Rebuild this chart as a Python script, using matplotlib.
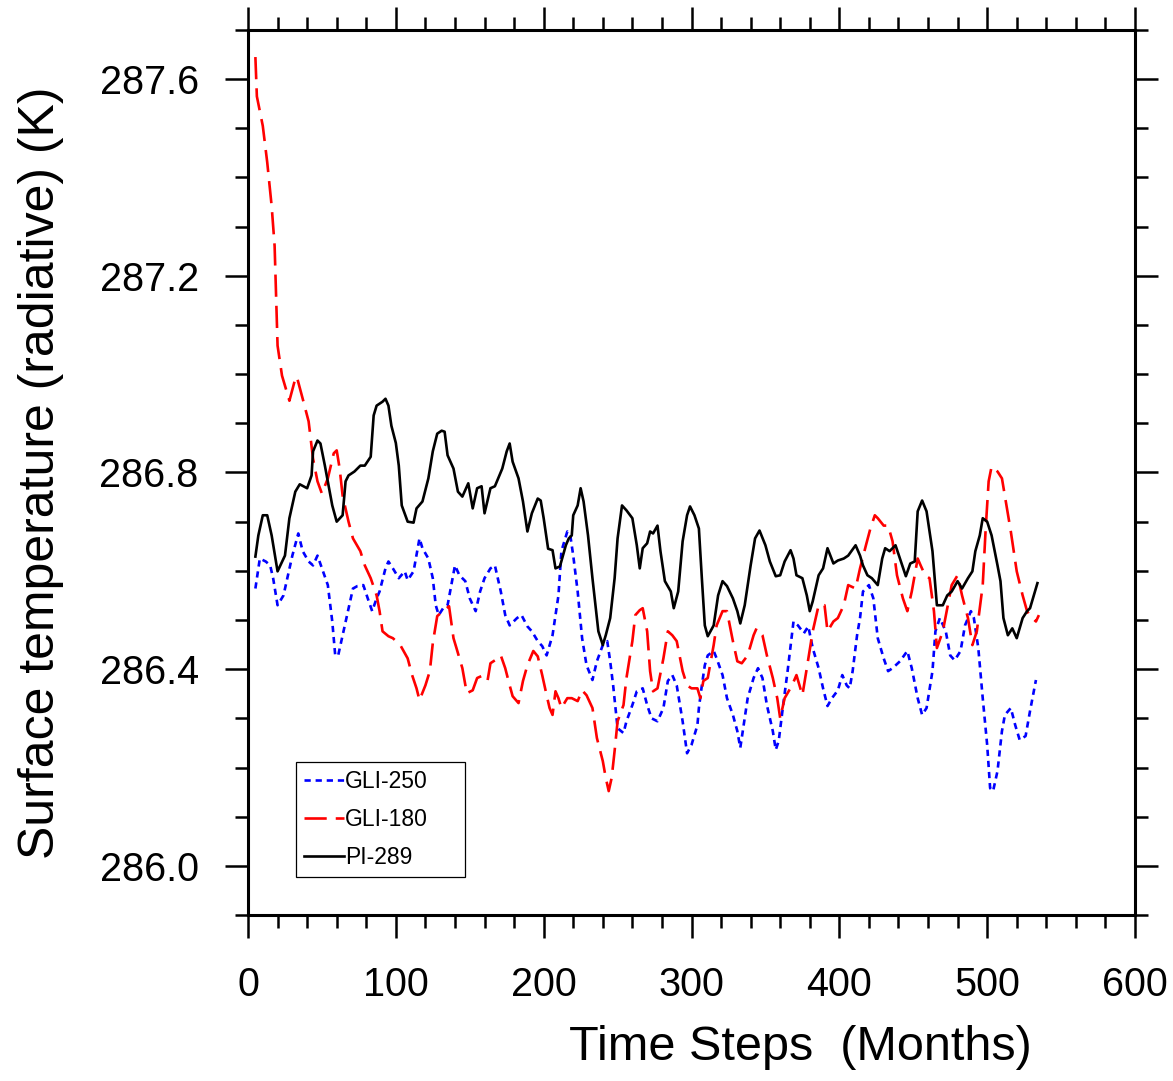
import matplotlib
matplotlib.use('Agg')
import matplotlib.pyplot as plt
from matplotlib.ticker import MultipleLocator

# series (month, temperature in K)
pi_month = [5, 7, 10, 13, 16, 20, 25, 28, 32, 35, 40, 43, 44, 47, 49, 52, 57, 60, 64, 66, 68, 72, 76, 79, 83, 85,
            87, 91, 93, 95, 97, 100, 102, 104, 108, 112, 114, 118, 122, 125, 128, 131, 133, 135, 139, 142, 145, 149,
            152, 155, 158, 160, 164, 167, 172, 175, 177, 179, 183, 186, 189, 192, 196, 198, 200, 203, 206, 208, 211,
            215, 217, 219, 220, 223, 225, 227, 230, 233, 237, 240, 242, 245, 248, 250, 253, 256, 260, 263, 265, 267,
            270, 272, 274, 277, 279, 282, 286, 288, 291, 294, 297, 299, 302, 305, 307, 309, 311, 315, 318, 321, 324,
            328, 331, 333, 336, 340, 343, 346, 350, 353, 357, 360, 363, 367, 369, 371, 375, 378, 380, 382, 386, 389,
            392, 396, 399, 403, 406, 411, 414, 416, 419, 422, 426, 429, 431, 434, 438, 441, 445, 448, 451, 453, 456,
            459, 463, 466, 470, 473, 476, 480, 483, 487, 490, 492, 495, 497, 500, 503, 507, 509, 511, 514, 517, 520,
            524, 527, 529, 534]
pi_temp = [286.629, 286.672, 286.713, 286.713, 286.672, 286.599, 286.631, 286.707, 286.761, 286.776, 286.768,
           286.794, 286.843, 286.865, 286.859, 286.814, 286.733, 286.700, 286.713, 286.782, 286.794, 286.802,
           286.814, 286.814, 286.832, 286.916, 286.936, 286.944, 286.950, 286.936, 286.895, 286.860, 286.814,
           286.733, 286.700, 286.698, 286.727, 286.741, 286.788, 286.843, 286.879, 286.885, 286.883, 286.835,
           286.808, 286.761, 286.751, 286.778, 286.727, 286.768, 286.772, 286.717, 286.768, 286.772, 286.808,
           286.843, 286.859, 286.822, 286.788, 286.741, 286.680, 286.717, 286.747, 286.743, 286.707, 286.645,
           286.642, 286.605, 286.609, 286.652, 286.666, 286.672, 286.713, 286.733, 286.768, 286.741, 286.672,
           286.585, 286.477, 286.449, 286.469, 286.504, 286.585, 286.666, 286.733, 286.723, 286.707, 286.652,
           286.605, 286.646, 286.656, 286.680, 286.676, 286.692, 286.640, 286.579, 286.558, 286.524, 286.558,
           286.660, 286.713, 286.731, 286.713, 286.686, 286.585, 286.489, 286.467, 286.489, 286.550, 286.579,
           286.569, 286.544, 286.518, 286.493, 286.530, 286.611, 286.666, 286.682, 286.652, 286.619, 286.589,
           286.591, 286.619, 286.642, 286.625, 286.591, 286.585, 286.550, 286.518, 286.538, 286.591, 286.605,
           286.646, 286.615, 286.621, 286.625, 286.631, 286.652, 286.631, 286.611, 286.591, 286.585, 286.571,
           286.625, 286.646, 286.640, 286.652, 286.625, 286.589, 286.615, 286.619, 286.721, 286.743, 286.721,
           286.640, 286.530, 286.530, 286.550, 286.558, 286.579, 286.564, 286.585, 286.599, 286.640, 286.672,
           286.707, 286.700, 286.672, 286.611, 286.579, 286.504, 286.469, 286.483, 286.463, 286.504, 286.518,
           286.524, 286.575]

gli180_month = [5, 6, 10, 13, 16, 18, 19, 20, 23, 28, 32, 33, 37, 41, 44, 47, 50, 54, 58, 60, 62, 64, 68, 71, 76,
                79, 83, 87, 89, 91, 95, 98, 103, 108, 111, 114, 116, 120, 123, 125, 128, 132, 136, 139, 141, 145,
                148, 152, 155, 158, 162, 164, 167, 171, 174, 177, 179, 183, 186, 189, 193, 196, 199, 202, 204, 206,
                208, 210, 212, 216, 219, 223, 226, 229, 233, 236, 240, 242, 244, 246, 248, 250, 254, 256, 260, 262,
                265, 267, 270, 272, 274, 277, 281, 284, 287, 290, 294, 297, 300, 304, 306, 308, 311, 315, 317, 321,
                324, 328, 331, 334, 338, 342, 344, 348, 351, 355, 358, 360, 363, 368, 371, 375, 378, 382, 386, 390,
                392, 396, 399, 403, 406, 411, 414, 418, 421, 424, 426, 430, 433, 436, 439, 443, 446, 449, 453, 455,
                458, 461, 464, 466, 470, 473, 476, 480, 483, 487, 490, 493, 497, 499, 501, 503, 507, 510, 516, 520,
                524, 527, 529, 533, 535]
gli180_temp = [287.645, 287.565, 287.505, 287.431, 287.342, 287.261, 287.159, 287.058, 286.997, 286.946, 286.991,
               286.995, 286.950, 286.904, 286.828, 286.782, 286.757, 286.788, 286.839, 286.845, 286.808, 286.753,
               286.700, 286.666, 286.640, 286.611, 286.585, 286.550, 286.518, 286.477, 286.467, 286.463, 286.449,
               286.422, 286.388, 286.361, 286.337, 286.367, 286.396, 286.453, 286.508, 286.518, 286.528, 286.463,
               286.443, 286.402, 286.351, 286.357, 286.382, 286.386, 286.376, 286.412, 286.418, 286.428, 286.402,
               286.367, 286.345, 286.331, 286.376, 286.408, 286.437, 286.426, 286.388, 286.347, 286.321, 286.307,
               286.355, 286.341, 286.321, 286.341, 286.341, 286.335, 286.357, 286.347, 286.321, 286.260, 286.213,
               286.179, 286.152, 286.179, 286.234, 286.294, 286.327, 286.382, 286.457, 286.510, 286.520, 286.524,
               286.477, 286.396, 286.355, 286.361, 286.422, 286.477, 286.469, 286.457, 286.396, 286.367, 286.361,
               286.361, 286.341, 286.376, 286.382, 286.449, 286.489, 286.518, 286.518, 286.457, 286.416, 286.412,
               286.428, 286.469, 286.483, 286.469, 286.428, 286.382, 286.341, 286.300, 286.341, 286.367, 286.388,
               286.347, 286.402, 286.477, 286.530, 286.530, 286.477, 286.497, 286.504, 286.530, 286.571, 286.564,
               286.605, 286.652, 286.686, 286.713, 286.707, 286.692, 286.692, 286.660, 286.591, 286.544, 286.518,
               286.558, 286.625, 286.611, 286.591, 286.585, 286.518, 286.443, 286.477, 286.524, 286.571, 286.591,
               286.550, 286.504, 286.449, 286.477, 286.571, 286.686, 286.782, 286.812, 286.802, 286.788, 286.680,
               286.599, 286.550, 286.518, 286.508, 286.497, 286.510]

gli250_month = [5, 8, 12, 15, 17, 20, 24, 27, 30, 34, 37, 41, 44, 47, 50, 54, 57, 59, 61, 64, 68, 71, 74, 78, 81,
                84, 87, 89, 93, 95, 98, 102, 106, 108, 112, 116, 118, 122, 125, 127, 129, 132, 135, 138, 140, 143,
                147, 150, 154, 157, 160, 164, 167, 171, 174, 177, 182, 185, 189, 192, 196, 199, 202, 206, 210, 212,
                216, 218, 220, 223, 226, 229, 233, 236, 240, 243, 245, 247, 250, 254, 256, 260, 263, 267, 270, 273,
                277, 281, 284, 287, 290, 294, 297, 300, 304, 305, 307, 309, 311, 315, 317, 321, 324, 328, 331, 333,
                335, 338, 342, 345, 348, 351, 355, 357, 359, 362, 365, 369, 372, 376, 379, 382, 386, 389, 392, 395,
                399, 402, 405, 407, 409, 412, 414, 416, 420, 423, 426, 430, 433, 436, 441, 446, 449, 453, 456, 459,
                463, 465, 468, 472, 475, 478, 482, 485, 489, 491, 494, 497, 500, 502, 504, 507, 510, 512, 516, 519,
                522, 526, 529, 533]
gli250_temp = [286.564, 286.625, 286.619, 286.611, 286.585, 286.530, 286.550, 286.591, 286.631, 286.676, 286.640,
               286.619, 286.611, 286.631, 286.605, 286.571, 286.497, 286.428, 286.428, 286.469, 286.524, 286.564,
               286.569, 286.571, 286.544, 286.518, 286.544, 286.558, 286.605, 286.619, 286.605, 286.585, 286.599,
               286.581, 286.599, 286.666, 286.646, 286.625, 286.585, 286.530, 286.510, 286.524, 286.530, 286.579,
               286.611, 286.591, 286.579, 286.544, 286.518, 286.558, 286.585, 286.605, 286.611, 286.558, 286.510,
               286.489, 286.504, 286.510, 286.487, 286.477, 286.457, 286.447, 286.428, 286.469, 286.550, 286.640,
               286.680, 286.672, 286.631, 286.558, 286.463, 286.408, 286.378, 286.416, 286.449, 286.457, 286.416,
               286.367, 286.280, 286.270, 286.294, 286.327, 286.355, 286.361, 286.327, 286.300, 286.294, 286.321,
               286.376, 286.388, 286.367, 286.294, 286.229, 286.246, 286.286, 286.321, 286.367, 286.408, 286.428,
               286.437, 286.422, 286.388, 286.341, 286.307, 286.274, 286.240, 286.280, 286.341, 286.382, 286.402,
               286.382, 286.327, 286.274, 286.236, 286.254, 286.327, 286.396, 286.497, 286.489, 286.473, 286.487,
               286.443, 286.402, 286.361, 286.325, 286.341, 286.357, 286.388, 286.367, 286.361, 286.396, 286.469,
               286.504, 286.558, 286.571, 286.544, 286.463, 286.422, 286.396, 286.402, 286.416, 286.437, 286.402,
               286.341, 286.307, 286.321, 286.396, 286.477, 286.504, 286.477, 286.428, 286.418, 286.437, 286.489,
               286.518, 286.504, 286.443, 286.341, 286.246, 286.158, 286.152, 286.193, 286.274, 286.307, 286.321,
               286.286, 286.256, 286.264, 286.315, 286.378]

plt.rcParams['font.family'] = ['Liberation Sans', 'DejaVu Sans']
plt.rcParams['lines.scale_dashes'] = False

fig = plt.figure(figsize=(11.73, 10.81), dpi=100)
ax = fig.add_axes([248 / 1173, 1 - 915 / 1081, 887 / 1173, 885 / 1081])

ax.plot(gli250_month, gli250_temp, color='blue', lw=1.9, dashes=(4.5, 3.5), label='GLI-250')
ax.plot(gli180_month, gli180_temp, color='red', lw=1.9, dashes=(16, 6.5), label='GLI-180')
ax.plot(pi_month, pi_temp, color='black', lw=1.9, label='PI-289')

ax.set_xlim(0, 600)
ax.set_ylim(285.9, 287.7)
ax.xaxis.set_major_locator(MultipleLocator(100))
ax.xaxis.set_minor_locator(MultipleLocator(20))
ax.yaxis.set_major_locator(MultipleLocator(0.4))
ax.yaxis.set_minor_locator(MultipleLocator(0.1))
ax.yaxis.set_major_formatter(matplotlib.ticker.FormatStrFormatter('%.1f'))

for s in ax.spines.values():
    s.set_linewidth(2.2)
ax.tick_params(which='both', direction='out', top=True, right=True, width=1.8)
ax.tick_params(which='major', length=16.5, labelsize=28.5)
ax.tick_params(which='minor', length=9.5)
ax.tick_params(axis='x', which='major', pad=20)
ax.tick_params(axis='y', which='major', pad=19)

# y label sits off to the left, x label is shifted right of centre like the original
ax.set_ylabel('Surface temperature (radiative) (K)', fontsize=36)
ax.yaxis.set_label_coords(-0.207, 0.5)
ax.set_xlabel('Time Steps  (Months)', fontsize=35)
ax.xaxis.set_label_coords((800 - 248) / 887, -0.124)

leg = ax.legend(loc='lower left', bbox_to_anchor=(48 / 887, 38 / 885, 169 / 887, 119 / 885), mode='expand',
                fontsize=16.5, handlelength=1.75, handletextpad=0.05, labelspacing=0.65, borderpad=0.35,
                borderaxespad=0, fancybox=False, framealpha=1)
leg.get_frame().set_edgecolor('black')
leg.get_frame().set_linewidth(0.9)

fig.savefig('out.png', dpi=100)
